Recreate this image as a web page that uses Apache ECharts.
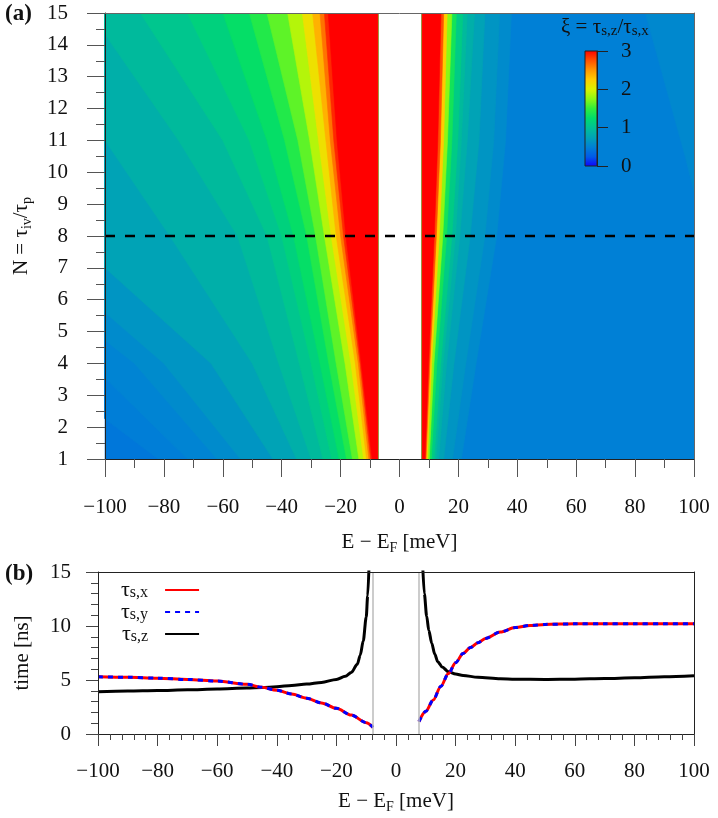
<!DOCTYPE html>
<html>
<head>
<meta charset="utf-8">
<script src="https://cdn.jsdelivr.net/npm/echarts@6/dist/echarts.min.js"></script>
<style>
html, body { margin: 0; padding: 0; background: #fff; }
#chart { width: 718px; height: 818px; }
</style>
</head>
<body>
<div id="chart"></div>
<script>
var serif = 'Liberation Serif';

var contourN = [1, 4, 8, 11, 15];
var leftBase = 0.44;
var leftLevels = [0.47, 0.5, 0.55, 0.6, 0.7, 0.8, 0.9, 1.0, 1.1, 1.2, 1.35, 1.5, 1.75, 2.0, 2.25, 2.5, 2.75, 3.0];
var leftContourX = [
	[-82, -125, -190, -230, -280],
	[-72, -105, -160, -195, -240],
	[-62, -90, -145, -175, -215],
	[-54, -80, -130, -155, -190],
	[-43, -64, -112, -130, -160],
	[-35, -50, -78, -100, -130],
	[-30, -41, -55, -75, -105],
	[-26, -34, -45, -60, -88],
	[-23, -30, -40, -51, -72],
	[-20.5, -27, -36, -45, -60],
	[-18, -24, -31.5, -39, -51],
	[-16, -21.5, -28.5, -34.5, -45],
	[-13.8, -18.5, -25.5, -30.5, -38],
	[-12.2, -16.5, -23.2, -27.5, -33],
	[-11.2, -15, -21.5, -25, -29.5],
	[-10.4, -14, -20, -23.5, -27],
	[-9.8, -13.4, -19, -22.3, -25.5],
	[-9.3, -13, -18.2, -21.2, -24.2]
];
var rightBase = 0.5;
var rightLevels = [0.55, 0.6, 0.7, 0.8, 0.9, 1.0, 1.2, 1.5, 2.0, 2.5, 3.0];
var rightContourX = [
	[21, 26, 33, 36, 38],
	[18, 22.5, 29, 32, 34],
	[15, 18.5, 24, 27, 29],
	[13.3, 16, 20.5, 23, 25.5],
	[12.4, 14.8, 19, 21, 23],
	[11.7, 14, 17.8, 19.8, 21.5],
	[10.8, 12.7, 16, 17.8, 19.3],
	[10.1, 11.7, 14.7, 16.3, 17.8],
	[9.5, 10.9, 13.5, 15, 16.2],
	[9.0, 10.3, 12.5, 13.9, 15.0],
	[8.7, 9.9, 11.8, 13.0, 14.1]
];
// slightly lighter top-right corner
var cornerN = [15, 13.5, 12, 10.5, 9.4];
var cornerX = [83.5, 88, 92.5, 97, 100];
var cornerXi = 0.56;
var gapLeft = -7.4, gapRight = 7.7;
var dashN = 8;
var colorTicks = [0, 1, 2, 3];

// ---- panel (b): spin relaxation times (ns) vs E - EF (meV), N = 8
var txLeftE = [-100, -90, -80, -70, -60, -50, -45, -40, -35, -30, -25, -20, -15, -10, -7.7];
var txLeft = [5.3, 5.25, 5.17, 5.05, 4.9, 4.6, 4.32, 4.05, 3.7, 3.32, 2.88, 2.38, 1.75, 1.05, 0.62];
var txRightE = [7.7, 10, 12.5, 15, 17.6, 20, 22.5, 25, 27.5, 30, 35, 40, 45, 50, 60, 70, 80, 90, 100];
var txRight = [1.14, 2.1, 3.15, 4.4, 5.6, 6.6, 7.45, 8.0, 8.45, 8.85, 9.45, 9.85, 10.05, 10.15, 10.2, 10.2, 10.2, 10.2, 10.2];
var tzLeftE = [-100, -90, -80, -70, -60, -50, -45, -40, -35, -30, -25, -20, -17, -15, -13, -12, -11, -10, -9.5, -9.0];
var tzLeft = [3.92, 3.98, 4.03, 4.09, 4.16, 4.25, 4.3, 4.38, 4.5, 4.62, 4.78, 5.05, 5.35, 5.7, 6.45, 7.3, 8.6, 10.8, 12.8, 16];
var tzRightE = [8.9, 9.5, 10.3, 11, 12, 13, 14, 15.5, 17.6, 20, 22.5, 27.5, 35, 40, 50, 60, 70, 80, 90, 100];
var tzRight = [16, 13.0, 10.9, 9.6, 8.4, 7.4, 6.7, 6.2, 5.77, 5.55, 5.42, 5.25, 5.12, 5.07, 5.05, 5.08, 5.13, 5.2, 5.3, 5.4];
var gapLines = [-7.7, 7.7];

var palette = ['#1000ff', '#005ae8', '#0080d6', '#00a3b6', '#00c096', '#00dc6c', '#30ee3c',
	'#8cf814', '#dcf200', '#ffcd00', '#ff9600', '#ff5000', '#ff0000'];

// build polygons (painter order: lower levels first)
var heatShapes = [], heatFill = [];
function addShape(pts, v) {
	heatShapes.push(pts);
	heatFill.push([v]);
}
addShape([[-100, 1], [gapLeft, 1], [gapLeft, 15], [-100, 15]], leftBase);
for(var i = 0; i < leftLevels.length; i++) {
	var pts = [];
	for(var j = 0; j < contourN.length; j++) {
		pts.push([leftContourX[i][j], contourN[j]]);
	}
	pts.push([gapLeft, 15], [gapLeft, 1]);
	var next = i < leftLevels.length - 1 ? leftLevels[i + 1] : leftLevels[i];
	addShape(pts, (leftLevels[i] + next) / 2);
}
addShape([[gapRight, 1], [100, 1], [100, 15], [gapRight, 15]], rightBase);
var corner = [];
for(var k = 0; k < cornerX.length; k++) {
	corner.push([cornerX[k], cornerN[k]]);
}
corner.push([100, 15]);
addShape(corner, cornerXi);
for(var i = 0; i < rightLevels.length; i++) {
	var pts = [[gapRight, 1]];
	for(var j = 0; j < contourN.length; j++) {
		pts.push([rightContourX[i][j], contourN[j]]);
	}
	pts.push([gapRight, 15]);
	var next = i < rightLevels.length - 1 ? rightLevels[i + 1] : rightLevels[i];
	addShape(pts, (rightLevels[i] + next) / 2);
}

function pairs(xs, ys) {
	var out = [];
	for(var i = 0; i < xs.length; i++) {
		out.push([xs[i], ys[i]]);
	}
	return out;
}
var txData = pairs(txLeftE, txLeft).concat([[0, '-']], pairs(txRightE, txRight));
var tzData = pairs(tzLeftE, tzLeft).concat([[0, '-']], pairs(tzRightE, tzRight));

function minusFmt(v) {
	return v < 0 ? '\u2212' + Math.abs(v) : String(v);
}

var subRich = {
	s: { fontSize: 14, fontFamily: serif, color: '#111', verticalAlign: 'bottom', lineHeight: 14 }
};
var nameStyle = { fontSize: 21, fontFamily: serif, color: '#111', lineHeight: 26, rich: subRich };

var stops = [];
for(var p = 0; p < palette.length; p++) {
	stops.push({ offset: p / (palette.length - 1), color: palette[p] });
}

// frame axes (top / right) with no ticks
function frameAxis(grid, pos, min, max, color) {
	return {
		gridIndex: grid, type: 'value', position: pos, min: min, max: max, z: 5,
		axisLine: { show: true, onZero: false, lineStyle: { color: color } },
		axisTick: { show: false }, axisLabel: { show: false }, splitLine: { show: false }
	};
}

var option = {
	animation: false,
	textStyle: { fontFamily: serif },
	grid: [
		{ left: 100, right: 24, top: 13, height: 446 },
		{ left: 98, right: 24, top: 572, height: 162 },
		{ left: 585, top: 51, width: 12, height: 115 }
	],
	visualMap: {
		show: false,
		type: 'continuous',
		min: 0,
		max: 3,
		dimension: 0,
		seriesIndex: 0,
		inRange: { color: palette }
	},
	legend: {
		orient: 'vertical',
		left: 121,
		top: 579,
		padding: 0,
		itemGap: 0,
		itemWidth: 34,
		itemHeight: 14,
		align: 'right',
		itemStyle: { opacity: 0 },
		data: ['tsx', 'tsy', 'tsz'],
		formatter: function(name) {
			return '{t|\u03c4}{s|s,' + name.charAt(2) + '}';
		},
		textStyle: {
			fontFamily: serif,
			fontSize: 22,
			lineHeight: 22,
			padding: [0, 12, 0, 0],
			rich: {
				t: { fontSize: 22, fontFamily: serif, color: '#111', lineHeight: 22 },
				s: { fontSize: 16, fontFamily: serif, color: '#111', verticalAlign: 'bottom', lineHeight: 12 }
			}
		}
	},
	graphic: [
		{ type: 'text', left: 5, top: 3, z: 100, style: { text: '(a)', font: 'bold 23px ' + serif, fill: '#111' } },
		{ type: 'text', left: 5, top: 563, z: 100, style: { text: '(b)', font: 'bold 23px ' + serif, fill: '#111' } },
		{
			type: 'text', left: 561, top: 15, z: 100,
			style: {
				text: '\u03be = \u03c4{s|s,z}/\u03c4{s|s,x}',
				fontSize: 21, fontFamily: serif, fill: '#111', lineHeight: 24,
				rich: { s: { fontSize: 15, fontFamily: serif, fill: '#111', verticalAlign: 'bottom', lineHeight: 12 } }
			}
		}
	],
	xAxis: [
		{
			gridIndex: 0, type: 'value', min: -100, max: 100, interval: 20, z: 5,
			axisLine: { show: true, onZero: false, lineStyle: { color: '#222', width: 1 } },
			axisTick: { show: true, length: 18, lineStyle: { color: '#555' } },
			minorTick: { show: true, splitNumber: 2, length: 9, lineStyle: { color: '#555' } },
			axisLabel: { margin: 38, fontSize: 21, fontFamily: serif, color: '#111', formatter: minusFmt },
			splitLine: { show: false },
			name: 'E \u2212 E{s|F} [meV]', nameLocation: 'middle', nameGap: 70, nameTextStyle: nameStyle
		},
		frameAxis(0, 'top', -100, 100, '#666'),
		{
			gridIndex: 1, type: 'value', min: -100, max: 100, interval: 20, z: 5,
			axisLine: { show: true, onZero: false, lineStyle: { color: '#222', width: 1 } },
			axisTick: { show: true, length: 12, lineStyle: { color: '#444' } },
			minorTick: { show: true, splitNumber: 5, length: 6, lineStyle: { color: '#444' } },
			axisLabel: { margin: 27, fontSize: 21, fontFamily: serif, color: '#111', formatter: minusFmt },
			splitLine: { show: false },
			name: 'E \u2212 E{s|F} [meV]', nameLocation: 'middle', nameGap: 54, nameTextStyle: nameStyle
		},
		frameAxis(1, 'top', -100, 100, '#222'),
		{
			gridIndex: 2, type: 'value', min: 0, max: 1, show: false
		}
	],
	yAxis: [
		{
			gridIndex: 0, type: 'value', min: 1, max: 15, interval: 1, z: 5,
			axisLine: { show: true, onZero: false, lineStyle: { color: '#222', width: 1 } },
			axisTick: { show: true, length: 18, lineStyle: { color: '#555' } },
			minorTick: { show: true, splitNumber: 2, length: 9, lineStyle: { color: '#555' } },
			axisLabel: { margin: 37, fontSize: 21, fontFamily: serif, color: '#111' },
			splitLine: { show: false },
			name: 'N = \u03c4{s|iv}/\u03c4{s|p}', nameLocation: 'middle', nameRotate: 90, nameGap: 71, nameTextStyle: nameStyle
		},
		frameAxis(0, 'right', 1, 15, '#666'),
		{
			gridIndex: 1, type: 'value', min: 0, max: 15, interval: 5, z: 5,
			axisLine: { show: true, onZero: false, lineStyle: { color: '#222', width: 1 } },
			axisTick: { show: true, length: 12, lineStyle: { color: '#444' } },
			minorTick: { show: true, splitNumber: 5, length: 7, lineStyle: { color: '#444' } },
			axisLabel: { margin: 27, fontSize: 21, fontFamily: serif, color: '#111' },
			splitLine: { show: false },
			name: 'time [ns]', nameLocation: 'middle', nameRotate: 90, nameGap: 63, nameTextStyle: nameStyle
		},
		frameAxis(1, 'right', 0, 15, '#222'),
		{
			gridIndex: 2, type: 'value', position: 'right', min: 0, max: 3, interval: 1, z: 6,
			axisLine: { show: true, onZero: false, lineStyle: { color: '#222' } },
			axisTick: { show: true, length: 11, lineStyle: { color: '#222' } },
			axisLabel: { margin: 24, fontSize: 21, fontFamily: serif, color: '#111' },
			splitLine: { show: false }
		}
	],
	series: [
		{
			type: 'custom',
			xAxisIndex: 0,
			yAxisIndex: 0,
			clip: true,
			silent: true,
			data: heatFill,
			renderItem: function(params, api) {
				var pts = heatShapes[params.dataIndex].map(function(pt) {
					return api.coord(pt);
				});
				var c = api.visual('color');
				return {
					type: 'polygon',
					z2: params.dataIndex,
					shape: { points: pts },
					style: { fill: c, stroke: c, lineWidth: 0.6 }
				};
			}
		},
		{
			type: 'line',
			xAxisIndex: 0,
			yAxisIndex: 0,
			z: 4,
			symbol: 'none',
			silent: true,
			data: [[-100, dashN], [100, dashN]],
			lineStyle: { color: '#000', width: 2.6, type: [10, 10] }
		},
		{
			type: 'custom',
			xAxisIndex: 4,
			yAxisIndex: 4,
			z: 5,
			silent: true,
			data: [[0, 0]],
			renderItem: function(params, api) {
				var p0 = api.coord([0, colorTicks[colorTicks.length - 1]]);
				var p1 = api.coord([1, colorTicks[0]]);
				return {
					type: 'rect',
					shape: { x: p0[0], y: p0[1], width: p1[0] - p0[0], height: p1[1] - p0[1] },
					style: { fill: new echarts.graphic.LinearGradient(0, 1, 0, 0, stops), stroke: '#222', lineWidth: 1 }
				};
			}
		},
		{
			name: 'tsz',
			type: 'line',
			xAxisIndex: 2,
			yAxisIndex: 2,
			z: 2,
			symbol: 'none',
			smooth: 0.3,
			smoothMonotone: 'x',
			data: tzData,
			lineStyle: { color: '#000', width: 3 },
			itemStyle: { color: '#000' },
			markLine: {
				silent: true,
				symbol: 'none',
				label: { show: false },
				lineStyle: { color: '#bbb', width: 1.5, type: 'solid' },
				data: gapLines.map(function(x) { return { xAxis: x }; })
			}
		},
		{
			name: 'tsx',
			type: 'line',
			xAxisIndex: 2,
			yAxisIndex: 2,
			z: 3,
			symbol: 'none',
			smooth: 0.3,
			smoothMonotone: 'x',
			data: txData,
			lineStyle: { color: '#ff0000', width: 3 },
			itemStyle: { color: '#ff0000' }
		},
		{
			name: 'tsy',
			type: 'line',
			xAxisIndex: 2,
			yAxisIndex: 2,
			z: 4,
			symbol: 'none',
			smooth: 0.3,
			smoothMonotone: 'x',
			data: txData,
			lineStyle: { color: '#0000ff', width: 3, type: [5, 5] },
			itemStyle: { color: '#0000ff' }
		}
	]
};

var chart = echarts.init(document.getElementById('chart'), null, { renderer: 'canvas' });
chart.setOption(option);
</script>
</body>
</html>
